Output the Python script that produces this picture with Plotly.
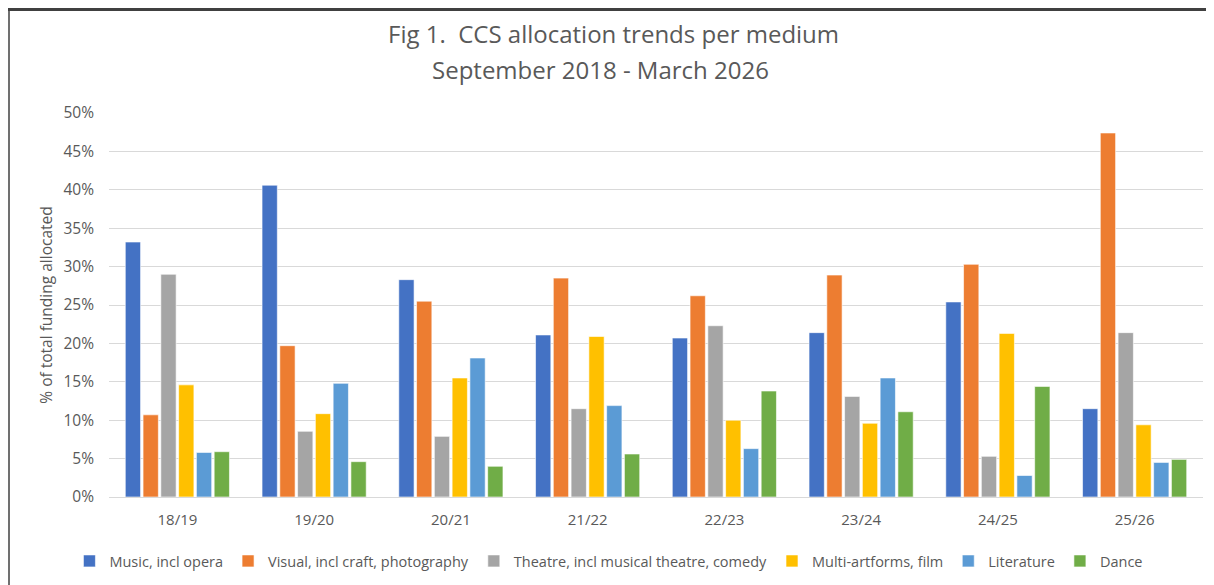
import plotly.graph_objects as go

years = ["18/19", "19/20", "20/21", "21/22", "22/23", "23/24", "24/25", "25/26"]

music = [33.2, 40.6, 28.3, 21.1, 20.7, 21.4, 25.4, 11.5]
visual = [10.7, 19.7, 25.5, 28.5, 26.2, 28.9, 30.3, 47.4]
theatre = [29.0, 8.55, 7.9, 11.5, 22.3, 13.1, 5.3, 21.4]
multi = [14.6, 10.85, 15.5, 20.9, 10.0, 9.6, 21.3, 9.4]
literature = [5.8, 14.8, 18.1, 11.9, 6.3, 15.5, 2.8, 4.5]
dance = [5.9, 4.6, 4.0, 5.6, 13.8, 11.1, 14.4, 4.9]

series = [
    ("Music, incl opera", music, "#4472C4"),
    ("Visual, incl craft, photography", visual, "#ED7D31"),
    ("Theatre, incl musical theatre, comedy", theatre, "#A5A5A5"),
    ("Multi-artforms, film", multi, "#FFC000"),
    ("Literature", literature, "#5B9BD5"),
    ("Dance", dance, "#70AD47"),
]

FONT = "Open Sans"
GREY = "#595959"

# plot area in page pixels
W, H = 1214, 585
L, R, T, B = 101, 19, 105, 96
PW, PH = W - L - R, H - T - B

fig = go.Figure()
for name, vals, colour in series:
    fig.add_trace(go.Bar(
        x=years,
        y=[v / 100 for v in vals],
        name=name,
        marker=dict(color=colour, line=dict(color="white", width=0.6)),
    ))

fig.update_layout(
    width=W,
    height=H,
    paper_bgcolor="white",
    plot_bgcolor="white",
    barmode="group",
    bargap=0.22,
    bargroupgap=0.14,
    margin=dict(l=L, r=R, t=T, b=B, autoexpand=False),
    font=dict(family=FONT, color=GREY, size=15),
    title=dict(
        text="Fig 1.  CCS allocation trends per medium",
        x=0.4988, xanchor="center", xref="container",
        y=1 - 27 / H, yanchor="middle", yref="container",
        font=dict(family=FONT, size=24, color=GREY),
    ),
    annotations=[
        dict(text="September 2018 - March 2026", showarrow=False,
             xref="paper", yref="paper",
             x=(592 - L) / PW, xanchor="center",
             y=(H - B - 61) / PH, yanchor="middle",
             font=dict(family=FONT, size=24, color=GREY)),
    ],
    legend=dict(
        orientation="h",
        x=0.495, xanchor="center", xref="container",
        y=1 - 553 / H, yanchor="middle", yref="container",
        font=dict(family=FONT, size=14.5, color=GREY),
        itemwidth=30,
        tracegroupgap=0,
    ),
    xaxis=dict(
        showgrid=False,
        showline=True, linecolor="#D9D9D9", linewidth=1,
        ticks="",
        tickfont=dict(size=15),
        ticklabelstandoff=9,
    ),
    yaxis=dict(
        range=[0, 0.5],
        dtick=0.05,
        tickformat=".0%",
        gridcolor="#D9D9D9",
        gridwidth=1,
        zeroline=False,
        ticks="",
        tickfont=dict(size=15.5),
        ticklabelstandoff=14,
        title=dict(text="% of total funding allocated", font=dict(size=15.5), standoff=7),
    ),
    shapes=[
        dict(type="line", xref="paper", yref="paper",
             x0=-L / PW, x1=(W - L) / PW, y0=(H - B - 1.5) / PH, y1=(H - B - 1.5) / PH,
             line=dict(color="#404040", width=3)),
        dict(type="line", xref="paper", yref="paper",
             x0=(1 - L) / PW, x1=(1 - L) / PW, y0=-B / PH, y1=(H - B) / PH,
             line=dict(color="#404040", width=1.5)),
    ],
)

fig.write_html("out.html")
